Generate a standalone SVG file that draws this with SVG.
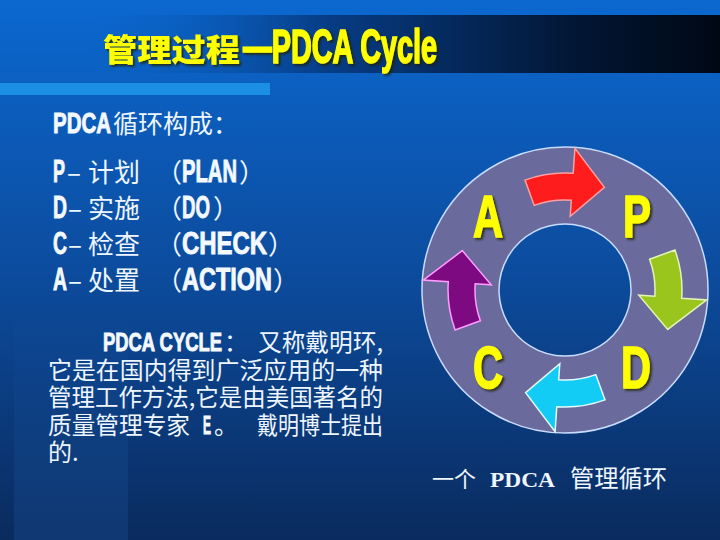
<svg xmlns="http://www.w3.org/2000/svg" xmlns:xlink="http://www.w3.org/1999/xlink" width="720" height="540" viewBox="0 0 720 540">
<defs>
  <linearGradient id="bg" x1="0" y1="0" x2="0" y2="1">
    <stop offset="0" stop-color="#0b68d0"/>
    <stop offset="0.5" stop-color="#0c4c9e"/>
    <stop offset="1" stop-color="#0a2b5e"/>
  </linearGradient>
  <linearGradient id="band" x1="0" y1="0" x2="1" y2="0">
    <stop offset="0.12" stop-color="#0a62c6" stop-opacity="0"/>
    <stop offset="0.45" stop-color="#073d86"/>
    <stop offset="0.8" stop-color="#021634"/>
    <stop offset="1" stop-color="#000814"/>
  </linearGradient>
  <linearGradient id="panel" x1="0" y1="0" x2="0" y2="1">
    <stop offset="0" stop-color="#2a74cc" stop-opacity="0"/>
    <stop offset="1" stop-color="#2a74cc" stop-opacity="0.18"/>
  </linearGradient>
  <filter id="sh" x="-10%" y="-20%" width="120%" height="150%">
    <feDropShadow dx="2" dy="2" stdDeviation="1" flood-color="#202000" flood-opacity="0.8"/>
  </filter>
  <path id="arr" d="M525,180.1 A117,117 0 0 1 573.2,173.3 L574.9,148.3 L604.4,187.3 L570.2,216.2 L571.3,200.2 A90,90 0 0 0 534.2,205.4 Z"/>
  <style>
    .cjk { font-family: "Noto Sans CJK SC", "Liberation Sans", sans-serif; fill: #eef6ff; }
    .lat { font-family: "Liberation Sans", "Noto Sans CJK SC", sans-serif; font-weight: bold; fill: #f4f9ff; stroke: #f4f9ff; stroke-width: 0.9px; }
    .big { font-family: "Liberation Sans", sans-serif; font-weight: bold; fill: #ffff00; stroke: #ffff00; stroke-width: 1.6px; font-size: 60px; }
    .ttl { fill: #ffff00; filter: url(#sh); }
  </style>
</defs>

<rect width="720" height="540" fill="url(#bg)"/>
<rect x="14" y="300" width="114" height="240" fill="url(#panel)"/>
<rect x="0" y="15" width="720" height="58" fill="url(#band)"/>
<rect x="0" y="83" width="270" height="12" fill="#1b8fe4"/>

<g id="title">
  <text class="ttl" x="103" y="61" font-family="Noto Sans CJK SC, sans-serif" font-weight="900" font-size="31" textLength="137" lengthAdjust="spacingAndGlyphs">管理过程</text>
  <text class="ttl" x="243" y="63" font-family="Liberation Sans, sans-serif" font-weight="bold" font-size="48" stroke="#ffff00" stroke-width="1.6" textLength="194" lengthAdjust="spacingAndGlyphs">—PDCA Cycle</text>
</g>

<g id="list">
  <text class="cjk" y="133"><tspan class="lat" x="53" font-size="29" textLength="58" lengthAdjust="spacingAndGlyphs">PDCA</tspan><tspan x="113" font-size="25">循环构成：</tspan></text>

  <text class="cjk" y="182" font-size="26"><tspan class="lat" x="53" font-size="31" textLength="12" lengthAdjust="spacingAndGlyphs">P</tspan><tspan x="67">–</tspan><tspan x="88">计划</tspan><tspan x="156">（</tspan><tspan class="lat" x="182" font-size="31" textLength="55" lengthAdjust="spacingAndGlyphs">PLAN</tspan><tspan x="239">）</tspan></text>

  <text class="cjk" y="218" font-size="26"><tspan class="lat" x="53" font-size="31" textLength="14" lengthAdjust="spacingAndGlyphs">D</tspan><tspan x="68">–</tspan><tspan x="88">实施</tspan><tspan x="156">（</tspan><tspan class="lat" x="182" font-size="31" textLength="28" lengthAdjust="spacingAndGlyphs">DO</tspan><tspan x="213">）</tspan></text>

  <text class="cjk" y="254" font-size="26"><tspan class="lat" x="53" font-size="31" textLength="14" lengthAdjust="spacingAndGlyphs">C</tspan><tspan x="68">–</tspan><tspan x="88">检查</tspan><tspan x="156">（</tspan><tspan class="lat" x="182" font-size="31" textLength="85" lengthAdjust="spacingAndGlyphs">CHECK</tspan><tspan x="268">）</tspan></text>

  <text class="cjk" y="290" font-size="26"><tspan class="lat" x="53" font-size="31" textLength="14" lengthAdjust="spacingAndGlyphs">A</tspan><tspan x="68">–</tspan><tspan x="88">处置</tspan><tspan x="156">（</tspan><tspan class="lat" x="182" font-size="31" textLength="90" lengthAdjust="spacingAndGlyphs">ACTION</tspan><tspan x="273">）</tspan></text>
</g>

<g id="paragraph">
  <text class="cjk" y="351" font-size="24"><tspan class="lat" x="103" font-size="25" textLength="119" lengthAdjust="spacingAndGlyphs">PDCA CYCLE</tspan><tspan x="224">：</tspan><tspan x="258" textLength="125" lengthAdjust="spacingAndGlyphs">又称戴明环,</tspan></text>
  <text class="cjk" x="48" y="379" font-size="24" textLength="335" lengthAdjust="spacingAndGlyphs">它是在国内得到广泛应用的一种</text>
  <text class="cjk" x="48" y="406" font-size="24" textLength="335" lengthAdjust="spacingAndGlyphs">管理工作方法,它是由美国著名的</text>
  <text class="cjk" y="434" font-size="24"><tspan x="48" textLength="142" lengthAdjust="spacingAndGlyphs">质量管理专家</tspan><tspan class="lat" x="203" font-size="26" textLength="8" lengthAdjust="spacingAndGlyphs">E</tspan><tspan x="214">。</tspan><tspan x="257" textLength="126" lengthAdjust="spacingAndGlyphs">戴明博士提出</tspan></text>
  <text class="cjk" x="48" y="461" font-size="24">的.</text>
</g>

<g id="ring">
  <path d="M565,147 A143,143 0 1 1 564.99,147 Z M565,224 A66,66 0 1 0 565.01,224 Z" fill="#6a6a9c" fill-rule="evenodd" stroke="#c8dcff" stroke-width="1.5"/>
</g>

<g id="arrows">
  <use xlink:href="#arr" href="#arr" fill="#ff1c1c" stroke="#ffa0a0" stroke-width="1.5"/>
  <use xlink:href="#arr" href="#arr" fill="#99c51c" stroke="#e4f4b8" stroke-width="1.5" transform="rotate(90 565 290)"/>
  <use xlink:href="#arr" href="#arr" fill="#12ccf6" stroke="#e4fbff" stroke-width="1.5" transform="rotate(180 565 290)"/>
  <use xlink:href="#arr" href="#arr" fill="#7e0a82" stroke="#ff9cff" stroke-width="1.5" transform="rotate(270 565 290)"/>
</g>

<g id="letters" filter="url(#sh)">
  <text class="big" x="473" y="237" textLength="30" lengthAdjust="spacingAndGlyphs">A</text>
  <text class="big" x="623" y="237" textLength="28" lengthAdjust="spacingAndGlyphs">P</text>
  <text class="big" x="473" y="388" textLength="30" lengthAdjust="spacingAndGlyphs">C</text>
  <text class="big" x="621" y="388" textLength="30" lengthAdjust="spacingAndGlyphs">D</text>
</g>

<g id="caption">
  <text class="cjk" y="487"><tspan x="432" font-size="22">一个</tspan><tspan x="490" font-family="Liberation Serif, serif" font-weight="bold" font-size="22" textLength="65" lengthAdjust="spacingAndGlyphs">PDCA</tspan><tspan x="570" font-size="24" textLength="97" lengthAdjust="spacingAndGlyphs">管理循环</tspan></text>
</g>
</svg>
